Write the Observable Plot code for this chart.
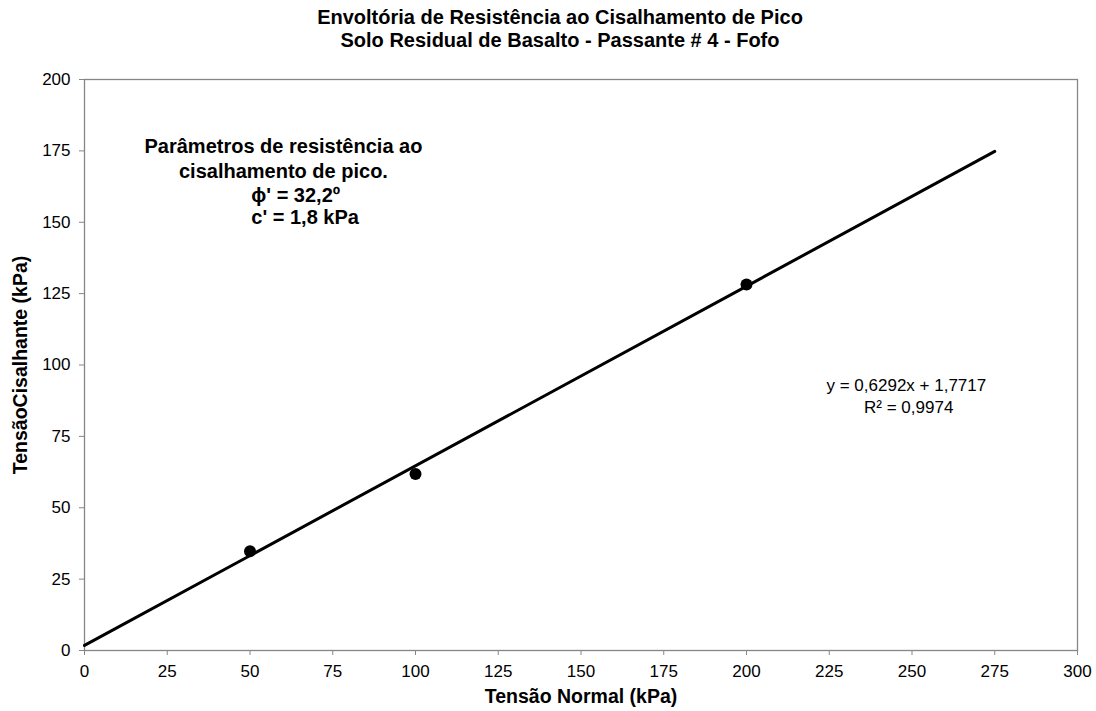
<!DOCTYPE html>
<html>
<head>
<meta charset="utf-8">
<script src="https://cdn.jsdelivr.net/npm/d3@7"></script>
<script src="https://cdn.jsdelivr.net/npm/@observablehq/plot@0.6"></script>
<style>
  html, body { margin: 0; padding: 0; background: #fff; }
  #wrap { width: 1096px; font-family: "Liberation Sans", Arial, sans-serif; }
  #title { box-sizing: border-box; height: 60px; padding-top: 6px; padding-left: 24px;
           text-align: center; font-weight: bold; font-size: 20px; line-height: 23px; color: #000; }
  svg { display: block; }
</style>
</head>
<body>
<div id="wrap">
  <div id="title">Envoltória de Resistência ao Cisalhamento de Pico<br>Solo Residual de Basalto - Passante # 4 - Fofo</div>
  <div id="chart"></div>
</div>
<script>
// Data
const normalStress = [50, 100, 200];          // Tensão Normal (kPa)
const shearStress = [34.8, 61.8, 128.2];       // Tensão Cisalhante (kPa)
const fitSlope = 0.6292;
const fitIntercept = 1.7717;
const fitRange = [0, 275];
const xTicks = [0, 25, 50, 75, 100, 125, 150, 175, 200, 225, 250, 275, 300];
const yTicks = [0, 25, 50, 75, 100, 125, 150, 175, 200];
const xLabel = "Tensão Normal (kPa)";
const yLabel = "TensãoCisalhante (kPa)";
const paramTitle = ["Parâmetros de resistência ao", "cisalhamento de pico."];
const paramValues = ["\u03d5' = 32,2º", "c' = 1,8 kPa"];
const eqLines = ["y = 0,6292x + 1,7717", "R² = 0,9974"];

const points = normalStress.map((x, i) => ({x, y: shearStress[i]}));
const fit = fitRange.map(x => ({x, y: fitSlope * x + fitIntercept}));

const axisColor = "#868686";
const bold = { fontWeight: "bold", fontSize: 19.5 };

const chart = Plot.plot({
  width: 1096,
  height: 651,
  marginTop: 19,
  marginLeft: 84,
  marginRight: 19,
  marginBottom: 61,
  style: { fontFamily: "'Liberation Sans', Arial, sans-serif", fontSize: "17px", color: "#000", background: "#fff" },
  x: { domain: [0, 300] },
  y: { domain: [0, 200] },
  marks: [
    Plot.frame({ stroke: axisColor, strokeWidth: 1.3 }),
    Plot.axisX({ ticks: xTicks, tickSize: 5, tickPadding: 9, stroke: axisColor, label: null, fontSize: 17, fill: "#000" }),
    Plot.axisY({ ticks: yTicks, tickSize: 5, tickPadding: 9, stroke: axisColor, label: null, fontSize: 17, fill: "#000" }),
    Plot.line(fit, { x: "x", y: "y", stroke: "#000", strokeWidth: 3 }),
    Plot.dot(points, { x: "x", y: "y", r: 6, fill: "#000", stroke: "none" }),
    Plot.text([paramTitle[0]], { x: 60.1, y: 176.6, text: d => d, ...bold, fontSize: 20, textAnchor: "middle" }),
    Plot.text([paramTitle[1]], { x: 60.1, y: 167.8, text: d => d, ...bold, fontSize: 20, textAnchor: "middle" }),
    Plot.text([paramValues[0]], { x: 50.4, y: 159.4, text: d => d, ...bold, fontSize: 20, textAnchor: "start" }),
    Plot.text([paramValues[1]], { x: 50.4, y: 151.7, text: d => d, ...bold, fontSize: 20, textAnchor: "start" }),
    Plot.text([eqLines[0]], { x: 248.3, y: 92.8, text: d => d, fontSize: 17, textAnchor: "middle" }),
    Plot.text([eqLines[1]], { x: 249, y: 85.1, text: d => d, fontSize: 17, textAnchor: "middle" }),
    Plot.text([xLabel], { frameAnchor: "bottom", dy: 46, lineAnchor: "middle", textAnchor: "middle", text: d => d, ...bold }),
    Plot.text([yLabel], { frameAnchor: "left", dx: -64, rotate: -90, lineAnchor: "middle", textAnchor: "middle", text: d => d, ...bold })
  ]
});
document.getElementById("chart").appendChild(chart);
</script>
</body>
</html>
